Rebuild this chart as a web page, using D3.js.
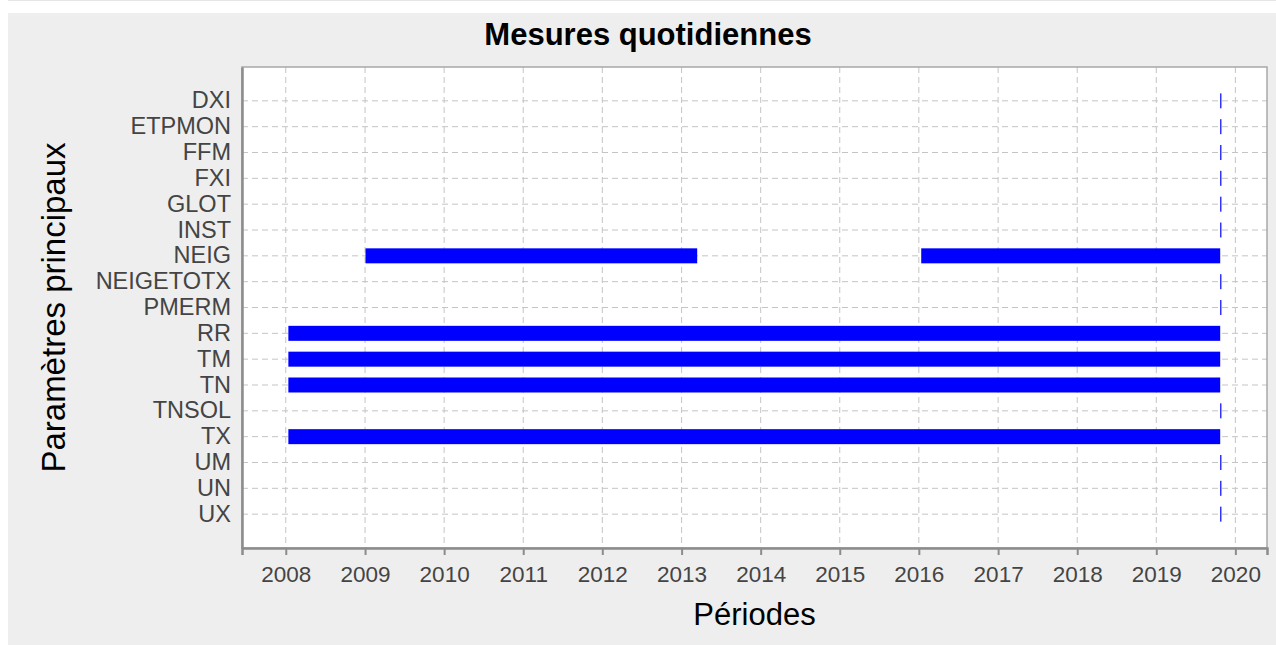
<!DOCTYPE html>
<html>
<head>
<meta charset="utf-8">
<script src="https://cdn.jsdelivr.net/npm/d3@7"></script>
<style>
  body { margin: 0; background: #fff; }
  svg { display: block; font-family: "Liberation Sans", Arial, sans-serif; }
</style>
</head>
<body>
<div id="chart"></div>
<script>
// Parameters on the vertical axis (top to bottom)
const parameters = ["DXI", "ETPMON", "FFM", "FXI", "GLOT", "INST", "NEIG", "NEIGETOTX",
                    "PMERM", "RR", "TM", "TN", "TNSOL", "TX", "UM", "UN", "UX"];

// Measurement periods per parameter: [start, end]
const periodParam = ["DXI", "ETPMON", "FFM", "FXI", "GLOT", "INST", "NEIG", "NEIG", "NEIGETOTX",
                     "PMERM", "RR", "TM", "TN", "TNSOL", "TX", "UM", "UN", "UX"];
const periodStart = ["2019-10-23", "2019-10-23", "2019-10-23", "2019-10-23", "2019-10-23", "2019-10-23",
                     "2009-01-03", "2016-01-12", "2019-10-23", "2019-10-23", "2008-01-13", "2008-01-13",
                     "2008-01-13", "2019-10-23", "2008-01-13", "2019-10-23", "2019-10-23", "2019-10-23"];
const periodEnd   = ["2019-10-23", "2019-10-23", "2019-10-23", "2019-10-23", "2019-10-23", "2019-10-23",
                     "2013-03-14", "2019-10-23", "2019-10-23", "2019-10-23", "2019-10-23", "2019-10-23",
                     "2019-10-23", "2019-10-23", "2019-10-23", "2019-10-23", "2019-10-23", "2019-10-23"];

const tickYears = [2008, 2009, 2010, 2011, 2012, 2013, 2014, 2015, 2016, 2017, 2018, 2019, 2020];

const parseDate = d3.timeParse("%Y-%m-%d");
const periods = periodParam.map((p, i) => ({
    param: p,
    start: parseDate(periodStart[i]),
    end: parseDate(periodEnd[i])
}));

const width = 1276, height = 645;
const plot = { left: 242, top: 67, right: 1267, bottom: 548 };

const svg = d3.select("#chart").append("svg").attr("width", width).attr("height", height);

// outer panel
svg.append("rect").attr("x", 8).attr("y", 0).attr("width", width - 8).attr("height", 1).attr("fill", "#e6e6e6");
svg.append("rect").attr("x", 8).attr("y", 13).attr("width", width - 8).attr("height", height - 13).attr("fill", "#eeeeee");

// plot background
svg.append("rect")
    .attr("x", plot.left).attr("y", plot.top)
    .attr("width", plot.right - plot.left).attr("height", plot.bottom - plot.top)
    .attr("fill", "#ffffff");

const x = d3.scaleTime()
    .domain([new Date(2007, 5, 13), new Date(2020, 4, 26)])
    .range([plot.left, plot.right]);

const y = d3.scalePoint()
    .domain(parameters)
    .range([plot.top, plot.bottom])
    .padding(1.31);

const tickDates = tickYears.map(yr => new Date(yr, 0, 1));

// grid lines
svg.append("g").selectAll("line")
    .data(tickDates)
    .enter().append("line")
    .attr("x1", d => x(d)).attr("x2", d => x(d))
    .attr("y1", plot.top).attr("y2", plot.bottom)
    .attr("stroke", "#c4c4c4").attr("stroke-width", 1).attr("stroke-dasharray", "6,4");

svg.append("g").selectAll("line")
    .data(parameters)
    .enter().append("line")
    .attr("x1", plot.left).attr("x2", plot.right)
    .attr("y1", d => y(d)).attr("y2", d => y(d))
    .attr("stroke", "#c4c4c4").attr("stroke-width", 1).attr("stroke-dasharray", "6,4");

// bars
const barH = 15;
svg.append("g").selectAll("rect")
    .data(periods)
    .enter().append("rect")
    .attr("x", d => x(d.start))
    .attr("y", d => y(d.param) - barH / 2)
    .attr("width", d => Math.max(1.2, x(d.end) - x(d.start)))
    .attr("height", barH)
    .attr("fill", "#0000ff");

// border
svg.append("rect")
    .attr("x", plot.left).attr("y", plot.top)
    .attr("width", plot.right - plot.left).attr("height", plot.bottom - plot.top)
    .attr("fill", "none").attr("stroke", "#a8a8a8").attr("stroke-width", 1.5);

// x axis
const xAxis = svg.append("g")
    .attr("transform", `translate(0,${plot.bottom})`)
    .call(d3.axisBottom(x).tickValues(tickDates).tickFormat(d3.timeFormat("%Y")).tickSize(7).tickPadding(11));
xAxis.select(".domain").attr("stroke", "#8c8c8c").attr("stroke-width", 2.5);
xAxis.selectAll(".tick line").attr("stroke", "#8c8c8c").attr("stroke-width", 2);
xAxis.selectAll(".tick text")
    .attr("fill", "#444").style("font-size", "22.5px")
    .style("font-family", "'Liberation Sans', Arial, sans-serif");

// y axis
const yAxis = svg.append("g")
    .attr("transform", `translate(${plot.left},0)`)
    .call(d3.axisLeft(y).tickSize(0).tickPadding(11));
yAxis.select(".domain").attr("stroke", "#8c8c8c").attr("stroke-width", 2.5);
yAxis.selectAll(".tick text")
    .attr("fill", "#444").attr("dy", "0.3em").style("font-size", "23.5px")
    .style("font-family", "'Liberation Sans', Arial, sans-serif");

// titles
svg.append("text")
    .attr("x", 648).attr("y", 45)
    .attr("text-anchor", "middle")
    .style("font-size", "31px").style("font-weight", "bold")
    .text("Mesures quotidiennes");

svg.append("text")
    .attr("x", (plot.left + plot.right) / 2).attr("y", 625)
    .attr("text-anchor", "middle")
    .style("font-size", "31px")
    .text("Périodes");

svg.append("text")
    .attr("transform", `translate(65,${(plot.top + plot.bottom) / 2}) rotate(-90)`)
    .attr("text-anchor", "middle")
    .style("font-size", "33px")
    .text("Paramètres principaux");
</script>
</body>
</html>
